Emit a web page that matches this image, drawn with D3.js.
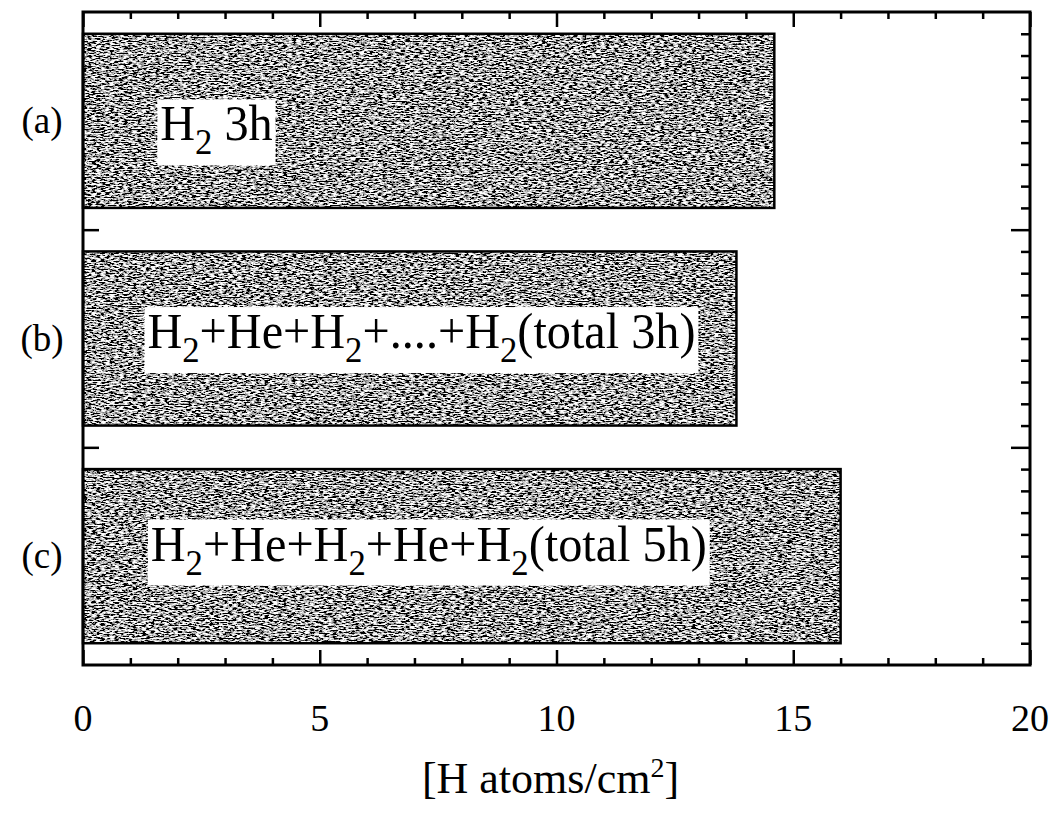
<!DOCTYPE html>
<html>
<head>
<meta charset="utf-8">
<script src="https://cdn.jsdelivr.net/npm/d3@7"></script>
<style>
  body { margin: 0; background: #fff; }
  text { font-family: "Liberation Serif", "DejaVu Serif", serif; fill: #000; }
</style>
</head>
<body>
<div id="chart"></div>
<script>
//categories, top to bottom
const categories = ['(a)', '(b)', '(c)']
//H atoms per cm2 for each bar
const values = [14.6, 13.8, 16.0]
//label text inside each bar, split into normal / subscript parts
const barLabels = [
  [['H', 0], ['2', 1], [' 3h', 0]],
  [['H', 0], ['2', 1], ['+He+H', 0], ['2', 1], ['+....+H', 0], ['2', 1], ['(total 3h)', 0]],
  [['H', 0], ['2', 1], ['+He+H', 0], ['2', 1], ['+He+H', 0], ['2', 1], ['(total 5h)', 0]]
]
const xTickLabels = [0, 5, 10, 15, 20]
const xTitle = '[H atoms/cm'

//set the dimensions and margins of the graph
const margin = {top: 12, right: 25, bottom: 152, left: 83},
  width = 1055 - margin.left - margin.right,
  height = 817 - margin.top - margin.bottom;

const root = d3.select("#chart")
.append("svg")
  .attr("width", width + margin.left + margin.right)
  .attr("height", height + margin.top + margin.bottom)

//grainy print texture for the bars
const defs = root.append("defs")
const grain = defs.append("filter")
  .attr("id", "grain")
  .attr("x", 0).attr("y", 0).attr("width", 1).attr("height", 1)
  .attr("filterUnits", "objectBoundingBox")
grain.append("feTurbulence")
  .attr("type", "fractalNoise")
  .attr("baseFrequency", "0.22 0.75")
  .attr("numOctaves", 3)
  .attr("seed", 7)
  .attr("result", "noise")
grain.append("feColorMatrix")
  .attr("in", "noise")
  .attr("type", "matrix")
  .attr("values", "4.5 0 0 0 -1.85  4.5 0 0 0 -1.85  4.5 0 0 0 -1.85  0 0 0 0 1")

const svg = root.append("g")
  .attr("transform", `translate(${margin.left}, ${margin.top})`);

//scales - x in H atoms, y in bar slots (a) on top
const x = d3.scaleLinear().domain([0, 20]).range([0, width])
const y = d3.scaleLinear().domain([0, 3]).range([height, 0])
const slot = i => categories.length - 1 - i

//bars
svg.selectAll("rect.bar")
.data(values)
.join("rect")
  .attr("class", "bar")
  .attr("x", x(0))
  .attr("y", (d, i) => y(slot(i) + 0.9))
  .attr("width", d => x(d) - x(0))
  .attr("height", y(0.1) - y(0.9))
  .attr("fill", "#777")
  .attr("filter", "url(#grain)")

svg.selectAll("rect.outline")
.data(values)
.join("rect")
  .attr("class", "outline")
  .attr("x", x(0))
  .attr("y", (d, i) => y(slot(i) + 0.9))
  .attr("width", d => x(d) - x(0))
  .attr("height", y(0.1) - y(0.9))
  .attr("fill", "none")
  .attr("stroke", "#000")
  .attr("stroke-width", 2.5)

//label anchors (start x, baseline y) in data units
const labelAnchor = [[1.63, 2.41], [1.36, 1.456], [1.43, 0.48]]

barLabels.forEach((parts, i) => {
  const ax = x(labelAnchor[i][0]), ay = y(labelAnchor[i][1])
  //slightly condensed, like the printed face
  const g = svg.append("g")
    .attr("transform", `translate(${ax}, ${ay}) scale(0.965, 1)`)
  const t = g.append("text")
    .style("font-size", "50px")
  parts.forEach(p => {
    const s = t.append("tspan").text(p[0])
    if (p[1]) s.style("font-size", "36px").attr("dy", 14)
    else if (s.node().previousSibling) s.attr("dy", -14)
  })
  const bb = t.node().getBBox()
  g.insert("rect", "text")
    .attr("x", bb.x - 3)
    .attr("y", -41)
    .attr("width", bb.width + 6)
    .attr("height", 66)
    .attr("fill", "#fff")
})

//bottom axis with inward ticks
const minorX = d3.range(0, 20.01, 1)
svg.append("g")
  .attr("transform", `translate(0, ${height})`)
  .call(d3.axisBottom(x).tickValues(minorX).tickSize(-7).tickFormat(""))
  .call(g => g.selectAll(".tick line").filter(d => d % 5 === 0).attr("y2", -15))
  .call(g => g.select(".domain").remove())
svg.append("g")
  .call(d3.axisTop(x).tickValues(minorX).tickSize(-7).tickFormat(""))
  .call(g => g.selectAll(".tick line").filter(d => d % 5 === 0).attr("y2", 15))
  .call(g => g.select(".domain").remove())

//right axis minor ticks every 0.1
const minorY = d3.range(1, 30).map(d => d / 10)
svg.append("g")
  .attr("transform", `translate(${width}, 0)`)
  .call(d3.axisRight(y).tickValues(minorY).tickSize(-9).tickFormat(""))
  .call(g => g.selectAll(".tick line").filter(d => Math.abs(d - Math.round(d)) < 1e-6).attr("x2", -19))
  .call(g => g.select(".domain").remove())
//left axis major ticks only
svg.append("g")
  .call(d3.axisLeft(y).tickValues([1, 2]).tickSize(-16).tickFormat(""))
  .call(g => g.select(".domain").remove())

svg.selectAll(".tick line").attr("stroke", "#000").attr("stroke-width", 2.5)

//frame
svg.append("rect")
  .attr("width", width)
  .attr("height", height)
  .attr("fill", "none")
  .attr("stroke", "#000")
  .attr("stroke-width", 3)

//x tick labels
svg.selectAll("text.xtick")
.data(xTickLabels)
.join("text")
  .attr("class", "xtick")
  .attr("x", d => x(d))
  .attr("y", height + 66)
  .attr("text-anchor", "middle")
  .style("font-size", "38px")
  .text(d => d)

//category labels
svg.selectAll("text.cat")
.data(categories)
.join("text")
  .attr("class", "cat")
  .attr("x", -41)
  .attr("y", (d, i) => y(slot(i) + 0.5) + 12)
  .attr("text-anchor", "middle")
  .style("font-size", "37px")
  .text(d => d)

//x axis title
const xt = svg.append("text")
  .attr("x", x(10) - 6)
  .attr("y", height + 128)
  .attr("text-anchor", "middle")
  .style("font-size", "44px")
xt.append("tspan").text(xTitle)
xt.append("tspan").text("2").style("font-size", "28px").attr("dy", -16)
xt.append("tspan").text("]").attr("dy", 16)
</script>
</body>
</html>
